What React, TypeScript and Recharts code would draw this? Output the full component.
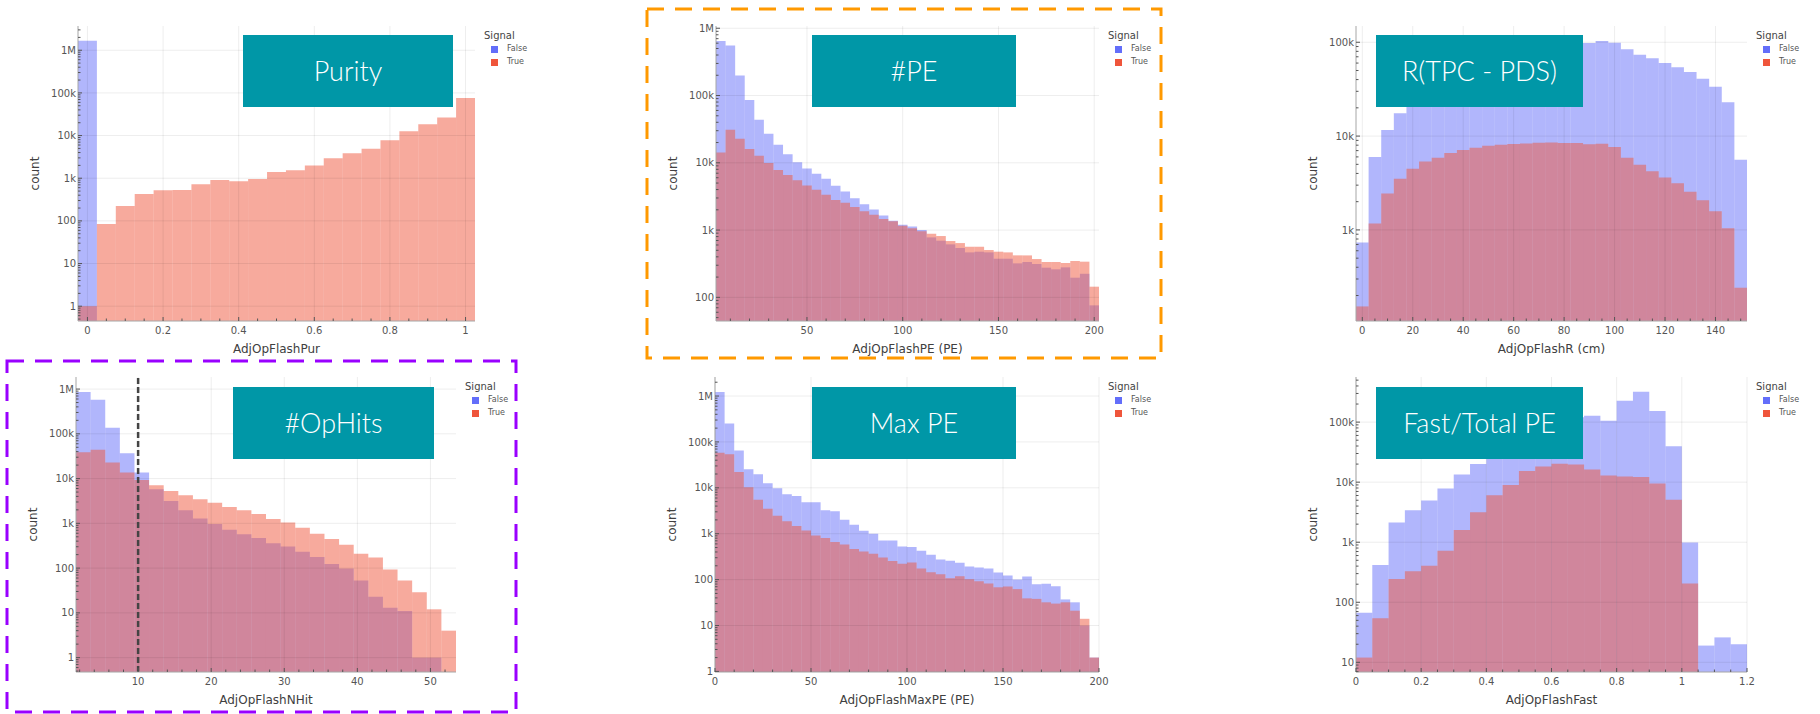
import React from 'react'
import { ComposedChart, Bar, XAxis, YAxis, ReferenceLine, Legend } from 'recharts'

const BLUE = '#636EFA'
const RED = '#EF553B'
const FRAME = '#a6a6a6'
const TICK = '#555'
const TEAL = '#0097a7'

// AdjOpFlashPur
const purBins = [0, 0.05, 0.1, 0.15, 0.2, 0.25, 0.3, 0.35, 0.4, 0.45, 0.5, 0.55, 0.6, 0.65, 0.7, 0.75, 0.8, 0.85, 0.9, 0.95, 1.0]
const purFalse = [1660000, 0, 0, 0, 0, 0, 0, 0, 0, 0, 0, 0, 0, 0, 0, 0, 0, 0, 0, 0, 0]
const purTrue = [1, 84, 224, 427, 520, 530, 720, 910, 850, 960, 1400, 1540, 2000, 2930, 3830, 4920, 7770, 12600, 18500, 26400, 76000]

// AdjOpFlashPE
const peBins = [5, 10, 15, 20, 25, 30, 35, 40, 45, 50, 55, 60, 65, 70, 75, 80, 85, 90, 95, 100, 105, 110, 115, 120, 125, 130, 135, 140, 145, 150, 155, 160, 165, 170, 175, 180, 185, 190, 195, 200]
const peFalse = [649000, 553000, 198000, 86000, 43500, 27000, 18500, 13400, 10200, 8200, 6900, 5800, 4550, 3750, 2980, 2430, 2030, 1650, 1380, 1200, 1130, 1000, 778, 695, 613, 541, 466, 477, 466, 375, 375, 320, 335, 313, 276, 261, 279, 196, 224, 76]
const peTrue = [14200, 30900, 22700, 16100, 12700, 9900, 7800, 6600, 5500, 4600, 3970, 3350, 2790, 2550, 2200, 1900, 1690, 1460, 1350, 1160, 1060, 960, 883, 815, 687, 641, 565, 565, 505, 477, 466, 421, 420, 371, 335, 335, 324, 347, 339, 144]

// AdjOpFlashR
const rBins = [0, 5, 10, 15, 20, 25, 30, 35, 40, 45, 50, 55, 60, 65, 70, 75, 80, 85, 90, 95, 100, 105, 110, 115, 120, 125, 130, 135, 140, 145, 150]
const rFalse = [733, 5970, 11600, 17500, 27000, 35000, 44000, 52000, 60000, 67000, 74000, 80000, 85000, 89000, 92000, 95000, 97000, 99000, 98400, 103000, 99000, 84000, 73800, 67400, 60200, 54000, 48200, 40900, 33600, 22900, 5580]
const rTrue = [153, 1170, 2440, 3500, 4480, 5370, 5870, 6590, 7100, 7500, 7880, 8080, 8220, 8350, 8490, 8550, 8420, 8420, 8200, 8300, 7630, 5870, 4940, 4230, 3620, 3150, 2550, 2070, 1580, 1040, 242]

// AdjOpFlashNHit
const nhBins = [2.5, 4.5, 6.5, 8.5, 10.5, 12.5, 14.5, 16.5, 18.5, 20.5, 22.5, 24.5, 26.5, 28.5, 30.5, 32.5, 34.5, 36.5, 38.5, 40.5, 42.5, 44.5, 46.5, 48.5, 50.5, 52.5]
const nhFalse = [857000, 577000, 136000, 36900, 13600, 5770, 3160, 1950, 1290, 966, 721, 567, 470, 357, 305, 232, 176, 123, 98, 53, 23, 13, 11, 1, 1, 0]
const nhTrue = [38900, 43900, 22800, 13600, 9330, 7100, 5300, 4240, 3450, 2900, 2320, 1950, 1620, 1250, 1040, 800, 587, 446, 333, 209, 173, 93, 53, 29, 12, 4]

// AdjOpFlashMaxPE
const mpBins = [2.5, 7.5, 12.5, 17.5, 22.5, 27.5, 32.5, 37.5, 42.5, 47.5, 52.5, 57.5, 62.5, 67.5, 72.5, 77.5, 82.5, 87.5, 92.5, 97.5, 102.5, 107.5, 112.5, 117.5, 122.5, 127.5, 132.5, 137.5, 142.5, 147.5, 152.5, 157.5, 162.5, 167.5, 172.5, 177.5, 182.5, 187.5, 192.5, 197.5]
const mpFalse = [1220000, 253000, 65000, 25400, 19800, 12600, 9800, 7200, 6640, 4830, 4830, 3230, 3070, 2020, 1570, 1160, 1000, 715, 715, 528, 511, 425, 347, 274, 257, 232, 193, 184, 175, 143, 123, 100, 117, 79, 81, 72, 37, 32, 10, 2]
const mpTrue = [57800, 54000, 22200, 10300, 5520, 3510, 2470, 1860, 1470, 1180, 918, 803, 657, 584, 462, 411, 365, 304, 253, 221, 236, 175, 145, 131, 107, 119, 102, 92, 82, 68, 71, 62, 39, 38, 32, 30, 32, 21, 14, 2]

// AdjOpFlashFast
const fBins = [0.025, 0.075, 0.125, 0.175, 0.225, 0.275, 0.325, 0.375, 0.425, 0.475, 0.525, 0.575, 0.625, 0.675, 0.725, 0.775, 0.825, 0.875, 0.925, 0.975, 1.025, 1.075, 1.125, 1.175]
const fFalse = [67, 416, 2120, 3400, 4930, 7820, 13400, 20000, 32000, 48000, 66000, 85000, 105000, 120000, 128000, 105000, 227000, 321000, 153000, 39700, 993, 19, 26, 20]
const fTrue = [12, 54, 243, 330, 405, 721, 1600, 3150, 6050, 9000, 15400, 18200, 20200, 19700, 16200, 12900, 12400, 12200, 9500, 5100, 206, 0, 0, 0]

const fmtY = (v: number) => (v >= 1e6 ? `${v / 1e6}M` : v >= 1e3 ? `${v / 1e3}k` : `${v}`)
const fmtX = (v: number) => `${Math.round(v * 1000) / 1000}`

function logTicks([lo, hi]: [number, number]) {
  const out: number[] = []
  for (let d = Math.floor(Math.log10(lo)); d <= Math.ceil(Math.log10(hi)); d++) {
    for (let m = 1; m <= 9; m++) {
      const v = m * Math.pow(10, d)
      if (v >= lo && v <= hi) out.push(v)
    }
  }
  return out
}

function linTicks([lo, hi]: [number, number], step: number) {
  const out: number[] = []
  for (let i = Math.ceil(lo / step - 1e-9); i <= Math.floor(hi / step + 1e-9); i++) {
    out.push(Math.round(i * step * 1e6) / 1e6)
  }
  return out
}

const isDecade = (v: number) => v >= 1 && Math.abs(Math.log10(v) - Math.round(Math.log10(v))) < 1e-6

// tick marks point into the frame, labels only on the major ones
function makeTick(side: string, isMajor: (v: number) => boolean, fmt: (v: number) => string) {
  return (p: any) => {
    const { x, y, payload } = p
    const v = payload.value
    const major = isMajor(v)
    const len = major ? 4 : 2.5
    let line = null
    let label = null
    if (side === 'left') {
      line = <line x1={x} x2={x + len} y1={y} y2={y} />
      if (major) label = <text x={x - 2} y={y + 3.6} textAnchor="end">{fmt(v)}</text>
    } else if (side === 'right') {
      line = <line x1={x} x2={x - len} y1={y} y2={y} />
    } else if (side === 'top') {
      line = <line x1={x} x2={x} y1={y} y2={y + len} />
    } else {
      line = <line x1={x} x2={x} y1={y} y2={y - len} />
      if (major) label = <text x={x} y={y + 12.6} textAnchor="middle">{fmt(v)}</text>
    }
    return (
      <g>
        <g stroke={TICK} strokeWidth={1}>{line}</g>
        {label && <g fill={TICK} fontSize={10} fontFamily="DejaVu Sans">{label}</g>}
      </g>
    )
  }
}

function SignalLegend({ payload }: any) {
  return (
    <div style={{ position: 'relative', width: 70, height: 50, fontFamily: 'DejaVu Sans' }}>
      <div style={{ position: 'absolute', left: 1, top: 4, fontSize: 10, lineHeight: '12px', color: '#444' }}>Signal</div>
      {(payload || []).map((e: any, i: number) => (
        <React.Fragment key={e.value}>
          <div style={{ position: 'absolute', left: 8, top: 19.5 + i * 13, width: 7, height: 7, background: e.color }} />
          <div style={{ position: 'absolute', left: 24, top: 18 + i * 13, fontSize: 8, lineHeight: '10px', color: '#555' }}>{e.value}</div>
        </React.Fragment>
      ))}
    </div>
  )
}

type HistProps = {
  x: number
  y: number
  w: number
  h: number
  bins: number[]
  fv: number[]
  tv: number[]
  xDomain: [number, number]
  xMajor: number[]
  xStep: number
  yDomain: [number, number]
  xTitle: string
  refX?: number
}

function Hist({ x, y, w, h, bins, fv, tv, xDomain, xMajor, xStep, yDomain, xTitle, refX }: HistProps) {
  const data = bins.map((b, i) => ({ bin: b, f: fv[i] > 0 ? fv[i] : null, t: tv[i] > 0 ? tv[i] : null }))
  const L = 80
  const T = 10
  const R = 70
  const B = 45
  const bs = w / bins.length - 0.002
  const yT = logTicks(yDomain)
  const xT = linTicks(xDomain, xStep)
  const xMaj = (v: number) => xMajor.some((m) => Math.abs(m - v) < 1e-6)
  const yMajors = yT.filter(isDecade)
  return (
    <div style={{ position: 'absolute', left: x - L, top: y - T }}>
      <ComposedChart
        width={L + w + R}
        height={T + h + B}
        data={data}
        margin={{ top: T, right: R, bottom: 0, left: 0 }}
        barCategoryGap={0}
        barGap={0}
      >
        <XAxis
          xAxisId="n"
          dataKey="bin"
          type="number"
          domain={xDomain}
          allowDataOverflow
          ticks={xT}
          interval={0}
          height={B}
          tickSize={0}
          tickMargin={0}
          tickLine={false}
          axisLine={{ stroke: FRAME }}
          tick={makeTick('bottom', xMaj, fmtX)}
          label={{
            value: xTitle,
            content: () => (
              <text x={L + w / 2} y={T + h + 32} textAnchor="middle" fontSize={12} fontFamily="DejaVu Sans" fill="#404040">
                {xTitle}
              </text>
            ),
          }}
        />
        <XAxis xAxisId="bf" dataKey="bin" type="category" hide height={0} />
        <XAxis xAxisId="bt" dataKey="bin" type="category" hide height={0} />
        <XAxis
          xAxisId="top"
          orientation="top"
          dataKey="bin"
          type="number"
          domain={xDomain}
          allowDataOverflow
          ticks={xT}
          interval={0}
          height={0}
          tickSize={0}
          tickMargin={0}
          tickLine={false}
          axisLine={{ stroke: FRAME }}
          tick={makeTick('top', xMaj, fmtX)}
        />
        <YAxis
          yAxisId="l"
          type="number"
          scale="log"
          domain={yDomain}
          allowDataOverflow
          ticks={yT}
          interval={0}
          width={L}
          tickSize={0}
          tickMargin={0}
          tickLine={false}
          axisLine={{ stroke: FRAME }}
          tick={makeTick('left', isDecade, fmtY)}
          label={{
            value: 'count',
            content: () => (
              <text
                x={37}
                y={T + h / 2}
                transform={`rotate(-90 37 ${T + h / 2})`}
                textAnchor="middle"
                dominantBaseline="central"
                fontSize={12}
                fontFamily="DejaVu Sans"
                fill="#404040"
              >
                count
              </text>
            ),
          }}
        />
        <YAxis
          yAxisId="r"
          orientation="right"
          type="number"
          scale="log"
          domain={yDomain}
          allowDataOverflow
          ticks={yT}
          interval={0}
          width={0}
          tickSize={0}
          tickMargin={0}
          tickLine={false}
          axisLine={{ stroke: FRAME }}
          tick={makeTick('right', isDecade, fmtY)}
        />
        {xMajor.map((v) => (
          <ReferenceLine key={`gx${v}`} xAxisId="n" yAxisId="l" x={v} stroke="#000" strokeOpacity={0.07} />
        ))}
        {yMajors.map((v) => (
          <ReferenceLine key={`gy${v}`} xAxisId="n" yAxisId="l" y={v} stroke="#000" strokeOpacity={0.07} />
        ))}
        <Bar xAxisId="bf" yAxisId="l" dataKey="f" name="False" fill={BLUE} fillOpacity={0.5} barSize={bs} isAnimationActive={false} />
        <Bar xAxisId="bt" yAxisId="l" dataKey="t" name="True" fill={RED} fillOpacity={0.5} barSize={bs} isAnimationActive={false} />
        {refX !== undefined && (
          <ReferenceLine xAxisId="n" yAxisId="l" x={refX} stroke="#444" strokeWidth={2.5} strokeDasharray="6 3" />
        )}
        <Legend
          layout="vertical"
          align="center"
          verticalAlign="middle"
          wrapperStyle={{ left: L + w + 8, top: T, width: 70, height: 50 }}
          content={SignalLegend}
        />
      </ComposedChart>
    </div>
  )
}

function Tag({ x, y, w, text }: { x: number; y: number; w: number; text: string }) {
  return (
    <div
      style={{
        position: 'absolute',
        left: x,
        top: y,
        width: w,
        height: 72,
        background: TEAL,
        color: '#fff',
        fontFamily: 'Lato',
        fontWeight: 300,
        fontSize: 27,
        lineHeight: '72px',
        textAlign: 'center',
      }}
    >
      {text}
    </div>
  )
}

export default function App() {
  return (
    <div style={{ position: 'absolute', left: 0, top: 0, width: 1820, height: 714, overflow: 'hidden', background: '#fff' }}>
      <Hist x={78} y={26} w={397} h={295} bins={purBins} fv={purFalse} tv={purTrue} xDomain={[-0.025, 1.025]} xMajor={[0, 0.2, 0.4, 0.6, 0.8, 1]} xStep={0.05} yDomain={[0.45, 3700000]} xTitle="AdjOpFlashPur" />
      <Hist x={716} y={26} w={383} h={295} bins={peBins} fv={peFalse} tv={peTrue} xDomain={[2.5, 202.5]} xMajor={[50, 100, 150, 200]} xStep={10} yDomain={[44.5, 1080000]} xTitle="AdjOpFlashPE (PE)" />
      <Hist x={1356} y={26} w={391} h={295} bins={rBins} fv={rFalse} tv={rTrue} xDomain={[-2.5, 152.5]} xMajor={[0, 20, 40, 60, 80, 100, 120, 140]} xStep={5} yDomain={[107, 149000]} xTitle="AdjOpFlashR (cm)" />
      <Hist x={76} y={377} w={380} h={295} bins={nhBins} fv={nhFalse} tv={nhTrue} xDomain={[1.5, 53.5]} xMajor={[10, 20, 30, 40, 50]} xStep={2} yDomain={[0.477, 1860000]} xTitle="AdjOpFlashNHit" refX={10} />
      <Hist x={715} y={377} w={384} h={295} bins={mpBins} fv={mpFalse} tv={mpTrue} xDomain={[0, 200]} xMajor={[0, 50, 100, 150, 200]} xStep={10} yDomain={[0.97, 2600000]} xTitle="AdjOpFlashMaxPE (PE)" />
      <Hist x={1356} y={377} w={391} h={295} bins={fBins} fv={fFalse} tv={fTrue} xDomain={[0, 1.2]} xMajor={[0, 0.2, 0.4, 0.6, 0.8, 1, 1.2]} xStep={0.05} yDomain={[6.9, 564000]} xTitle="AdjOpFlashFast" />

      <Tag x={243} y={35} w={210} text="Purity" />
      <Tag x={812} y={35} w={204} text="#PE" />
      <Tag x={1376} y={35} w={207} text="R(TPC - PDS)" />
      <Tag x={233} y={387} w={201} text="#OpHits" />
      <Tag x={812} y={387} w={204} text="Max PE" />
      <Tag x={1376} y={387} w={207} text="Fast/Total PE" />

      <svg width={1820} height={714} style={{ position: 'absolute', left: 0, top: 0, pointerEvents: 'none' }}>
        <rect x={647} y={9} width={514} height={349} fill="none" stroke="#ff9900" strokeWidth={3} strokeDasharray="17 11" />
        <rect x={7} y={361} width={509} height={351} fill="none" stroke="#9900ff" strokeWidth={3} strokeDasharray="17 11" />
      </svg>
    </div>
  )
}
